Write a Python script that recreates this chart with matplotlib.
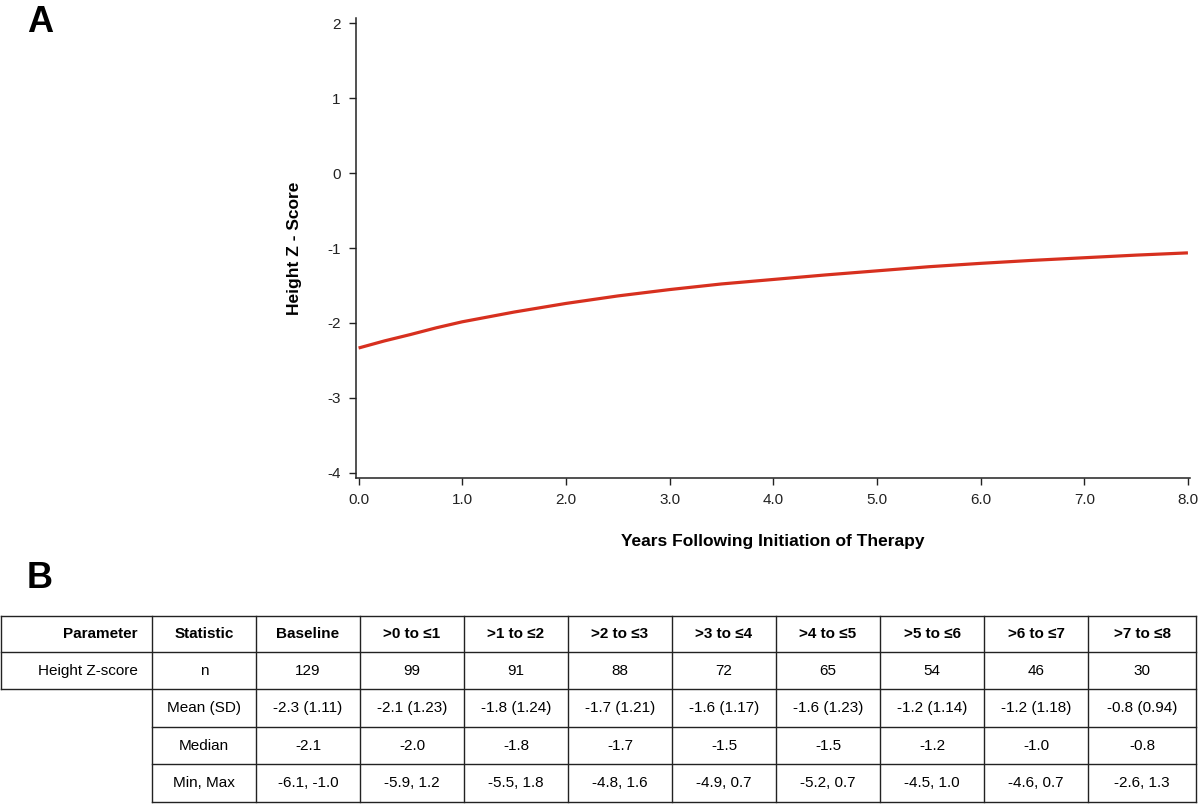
import matplotlib.pyplot as plt

plt.rcParams['font.family'] = ['Liberation Sans', 'DejaVu Sans']
plt.rcParams['axes.unicode_minus'] = False

# fitted height z-score curve (panel A)
years = [0.0, 0.25, 0.5, 0.75, 1.0, 1.5, 2.0, 2.5, 3.0, 3.5, 4.0, 4.5, 5.0, 5.5, 6.0,
         6.5, 7.0, 7.5, 8.0]
z_score = [-2.335, -2.24, -2.155, -2.065, -1.985, -1.855, -1.74, -1.64, -1.555, -1.48,
           -1.42, -1.36, -1.305, -1.25, -1.205, -1.165, -1.13, -1.095, -1.065]

# summary table (panel B)
col_headers = ["Parameter", "Statistic", "Baseline", ">0 to \u22641", ">1 to \u22642",
               ">2 to \u22643", ">3 to \u22644", ">4 to \u22645", ">5 to \u22646",
               ">6 to \u22647", ">7 to \u22648"]
parameter = "Height Z-score"
stat_names = ["n", "Mean (SD)", "Median", "Min, Max"]
n_vals = ["129", "99", "91", "88", "72", "65", "54", "46", "30"]
mean_sd = ["-2.3 (1.11)", "-2.1 (1.23)", "-1.8 (1.24)", "-1.7 (1.21)", "-1.6 (1.17)",
           "-1.6 (1.23)", "-1.2 (1.14)", "-1.2 (1.18)", "-0.8 (0.94)"]
median = ["-2.1", "-2.0", "-1.8", "-1.7", "-1.5", "-1.5", "-1.2", "-1.0", "-0.8"]
min_max = ["-6.1, -1.0", "-5.9, 1.2", "-5.5, 1.8", "-4.8, 1.6", "-4.9, 0.7",
           "-5.2, 0.7", "-4.5, 1.0", "-4.6, 0.7", "-2.6, 1.3"]

W, H = 1200, 805
fig = plt.figure(figsize=(W / 100, H / 100), dpi=100)

# ---- panel A ----
ax = fig.add_axes([356 / W, 1 - 478 / H, (1190 - 356) / W, (478 - 18) / H])
ax.plot(years, z_score, color='#d7301f', lw=2.3, solid_capstyle='butt',
        solid_joinstyle='round')
ax.set_xlim(-0.025, 8.02)
ax.set_ylim(-4.07, 2.07)
ax.set_xticks(range(9))
ax.set_xticklabels([f"{v:.1f}" for v in range(9)])
ax.set_yticks([2, 1, 0, -1, -2, -3, -4])
for s in ['top', 'right']:
    ax.spines[s].set_visible(False)
for s in ['left', 'bottom']:
    ax.spines[s].set_linewidth(1.1)
    ax.spines[s].set_color('#222222')
ax.tick_params(direction='out', length=5, width=1.0, color='#222222',
               labelsize=11, labelcolor='#222222', pad=6)
ax.set_ylabel("Height Z - Score", fontsize=12.5, fontweight='bold', labelpad=18)
ax.set_xlabel("Years Following Initiation of Therapy", fontsize=12.5,
              fontweight='bold', labelpad=19)

fig.text(40 / W, 1 - 22 / H, "A", fontsize=26, fontweight='bold', ha='center', va='center')
fig.text(40 / W, 1 - 578 / H, "B", fontsize=26, fontweight='bold', ha='center', va='center')

# ---- panel B: table ----
tx = fig.add_axes([0, 0, 1, 1])
tx.set_xlim(0, W)
tx.set_ylim(H, 0)
tx.axis('off')

col_x = [1, 152, 256, 360, 464, 568, 672, 776, 880, 984, 1088, 1196]
row_y = [616, 652, 689, 727, 764, 802]
lc = '#222222'
lw = 1.0

# horizontal lines
tx.plot([col_x[0], col_x[-1]], [row_y[0]] * 2, color=lc, lw=lw)
tx.plot([col_x[0], col_x[-1]], [row_y[1]] * 2, color=lc, lw=lw)
tx.plot([col_x[0], col_x[-1]], [row_y[2]] * 2, color=lc, lw=lw)
for yy in row_y[3:]:
    tx.plot([col_x[1], col_x[-1]], [yy] * 2, color=lc, lw=lw)
# vertical lines
tx.plot([col_x[0]] * 2, [row_y[0], row_y[2]], color=lc, lw=lw)
for xx in col_x[1:]:
    tx.plot([xx] * 2, [row_y[0], row_y[-1]], color=lc, lw=lw)

fs = 11
centers = [(col_x[i] + col_x[i + 1]) / 2 for i in range(len(col_x) - 1)]
row_c = [(row_y[i] + row_y[i + 1]) / 2 for i in range(len(row_y) - 1)]

tx.text(col_x[1] - 14, row_c[0], col_headers[0], ha='right', va='center',
        fontsize=fs, fontweight='bold')
for i, h in enumerate(col_headers[1:]):
    tx.text(centers[i + 1], row_c[0], h, ha='center', va='center', fontsize=fs,
            fontweight='bold')

tx.text(col_x[1] - 14, row_c[1], parameter, ha='right', va='center', fontsize=fs)
rows = [n_vals, mean_sd, median, min_max]
for r, (name, vals) in enumerate(zip(stat_names, rows)):
    yc = row_c[r + 1]
    tx.text(centers[1], yc, name, ha='center', va='center', fontsize=fs)
    for j, v in enumerate(vals):
        tx.text(centers[j + 2], yc, v, ha='center', va='center', fontsize=fs)

fig.savefig("out.png", dpi=100)
